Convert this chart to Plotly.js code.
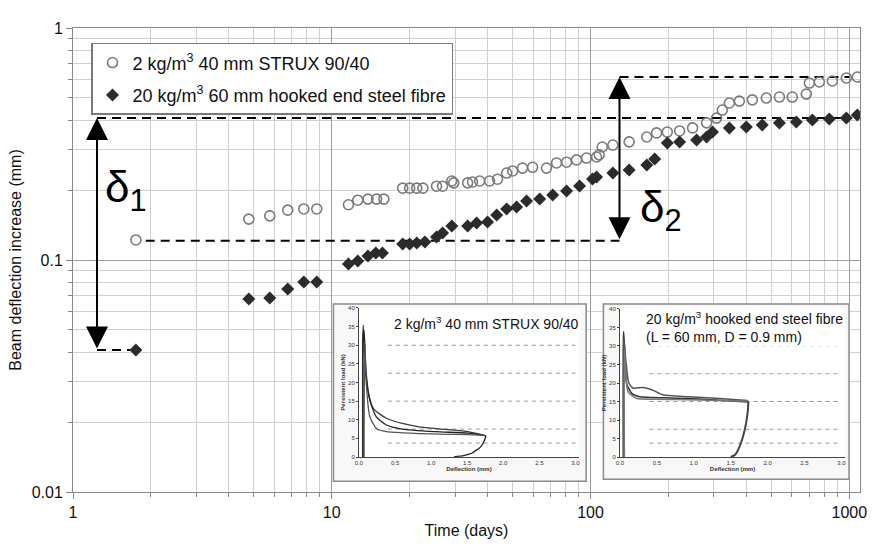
<!DOCTYPE html>
<html>
<head>
<meta charset="utf-8">
<script src="https://cdn.plot.ly/plotly-3.0.1.min.js"></script>
<style>html,body{margin:0;padding:0;background:#fff;}#chart{width:887px;height:544px;}</style>
</head>
<body>
<div id="chart"></div>
<script>
// ---- main series (time in days, deflection increase in mm) ----
const strux_days = [1.75,4.78,5.76,6.76,7.80,8.75,11.6,12.6,13.8,14.9,15.9,18.8,20.0,21.3,22.5,25.4,26.8,29.1,29.6,33.5,35.0,37.3,40.7,43.7,47.4,50.0,54.6,59.7,67.6,73.9,80.8,88.3,96.5,105.5,108,111,122,141,165,180,198,221,248,281,307,323,344,376,422,478,537,602,682,701,766,860,974,1074];
const strux_defl = [0.122,0.150,0.155,0.164,0.166,0.166,0.173,0.181,0.183,0.183,0.183,0.204,0.204,0.204,0.204,0.208,0.208,0.219,0.215,0.215,0.217,0.219,0.219,0.223,0.237,0.242,0.249,0.251,0.249,0.262,0.264,0.270,0.275,0.278,0.284,0.307,0.313,0.323,0.339,0.353,0.356,0.360,0.371,0.390,0.409,0.443,0.475,0.484,0.490,0.499,0.504,0.504,0.519,0.579,0.585,0.591,0.609,0.615];

const steel_days = [1.75,4.78,5.76,6.76,7.80,8.75,11.6,12.6,13.8,14.8,15.7,18.8,20.0,21.3,22.9,25.4,26.8,29.1,33.5,36.3,40.0,43.4,47.4,51.8,56.6,63.6,71.4,80.8,90.7,101.8,105.5,122,141,165,177,198,221,257,281,296,344,400,461,537,624,720,837,974,1074];
const steel_defl = [0.0409,0.0679,0.0686,0.0750,0.0804,0.0804,0.0961,0.099,0.104,0.1072,0.1072,0.1172,0.1172,0.1184,0.1196,0.1257,0.1307,0.1401,0.1401,0.1444,0.1458,0.1563,0.166,0.1692,0.1796,0.1832,0.1906,0.1984,0.2084,0.2234,0.2279,0.2371,0.2443,0.2567,0.2724,0.3193,0.3226,0.3291,0.339,0.356,0.3707,0.3744,0.382,0.3896,0.3935,0.4014,0.4053,0.4094,0.4217];

const seriesNames = ['2 kg/m<sup>3</sup> 40 mm STRUX 90/40', '20 kg/m<sup>3</sup> 60 mm hooked end steel fibre'];

// ---- delta construction lines ----
const delta1_day = 1.238;
const delta2_day = 129.4;
const level_top1 = 0.409;   // end of steel series
const level_bot1 = 0.0409;  // start of steel series
const level_bot2 = 0.121;   // start of STRUX series
const level_top2 = 0.615;   // end of STRUX series
const dash_top1_x = [delta1_day, 1010];
const dash_bot1_x = [delta1_day, 1.66];
const dash_bot2_x = [1.91, delta2_day];
const dash_top2_x = [delta2_day, 1000];

// ---- axis ticks ----
const xTickVals = [1,10,100,1000];
const xTickText = ['1','10','100','1000'];
const yTickVals = [0.01,0.1,1];
const yTickText = ['0.01','0.1','1'];
const xMinor = [2,3,4,5,6,7,8,9,20,30,40,50,60,70,80,90,200,300,400,500,600,700,800,900];
const yMinor = [0.02,0.03,0.04,0.05,0.06,0.07,0.08,0.09,0.2,0.3,0.4,0.5,0.6,0.7,0.8,0.9];

// ---- insets: persistent load (kN) vs deflection (mm) ----
const inset_levels = [30, 22.5, 15, 7.5, 3.75];
const inset_level_x = [0.4, 3.0];
const inset1_title = '2 kg/m<sup>3</sup> 40 mm STRUX 90/40';
const inset2_title = '20 kg/m<sup>3</sup> hooked end steel fibre<br>(L = 60 mm, D = 0.9 mm)';
const in1_a_x = [0.05,0.05,0.06,0.08,0.12,0.2,0.38,0.6,0.83,1.2,1.51,1.74];
const in1_a_y = [0,30,35.4,26,18,13,10.4,9.0,8.1,7.4,6.8,5.8];
const in1_b_x = [0.06,0.06,0.07,0.1,0.15,0.24,0.38,0.6,1.06,1.51,1.76];
const in1_b_y = [0,33,34,22.5,15.3,10.8,8.6,7.5,6.8,6.4,5.7];
const in1_c_x = [0.07,0.08,0.1,0.15,0.25,0.38,0.6,0.83,1.2,1.5,1.74];
const in1_c_y = [0,31,20,10.8,7.5,6.8,6.5,6.3,6.1,6.0,5.8];
const in1_u_x = [1.76,1.74,1.69,1.56,1.45,1.32];
const in1_u_y = [5.7,4.5,2.8,1.0,0.4,0.1];
const in2_a_x = [0.045,0.045,0.05,0.07,0.09,0.16,0.27,0.6,0.93,1.3,1.73];
const in2_a_y = [0,30,33.9,27,19.9,17.2,16.3,16.0,15.8,15.4,14.9];
const in2_b_x = [0.05,0.05,0.08,0.12,0.18,0.31,0.44,0.58,0.93,1.3,1.73];
const in2_b_y = [0,32,26,20,18.6,18.8,18.1,16.8,16.3,15.9,15.3];
const in2_c_x = [0.06,0.06,0.08,0.11,0.22,0.5,0.9,1.3,1.74];
const in2_c_y = [0,29,22,17.6,15.9,15.6,15.5,15.3,15.1];
const in2_u_x = [1.74,1.73,1.69,1.62,1.56,1.5];
const in2_u_y = [15.1,12,7.3,2.8,0.6,0];
const insetXTicks = [0,0.5,1,1.5,2,2.5,3];
const insetXText = ['0.0','0.5','1.0','1.5','2.0','2.5','3.0'];

const FONT = 'Arial, "Liberation Sans", sans-serif';
const traces = [];

// cover panels (behind insets)
traces.push({x:[null], y:[null], xaxis:'x2', yaxis:'y2', showlegend:false, hoverinfo:'skip', mode:'markers'});
traces.push({x:[null], y:[null], xaxis:'x3', yaxis:'y3', showlegend:false, hoverinfo:'skip', mode:'markers'});

// dashed construction lines
const dashStyle = {color:'#000', width:2, dash:'9px,6px'};
[[dash_top1_x, level_top1],[dash_bot1_x, level_bot1],[dash_bot2_x, level_bot2],[dash_top2_x, level_top2]].forEach(function(d){
  traces.push({x:d[0], y:[d[1], d[1]], mode:'lines', line:dashStyle, showlegend:false, hoverinfo:'skip'});
});

traces.push({x:strux_days, y:strux_defl, name:seriesNames[0], mode:'markers', legendgroup:'a',
  marker:{symbol:'circle-open', size:10, color:'#7a7a7a', line:{width:1.6}}});
traces.push({x:steel_days, y:steel_defl, name:seriesNames[1], mode:'markers', legendgroup:'b',
  marker:{symbol:'diamond', size:10, color:'#2b2b2b'}});

// insets
function insetLevels(xa, ya){
  inset_levels.forEach(function(L){
    traces.push({x:inset_level_x, y:[L,L], xaxis:xa, yaxis:ya, mode:'lines', showlegend:false, hoverinfo:'skip',
      line:{color:'#9a9a9a', width:1, dash:'4px,4px'}});
  });
}
insetLevels('x4','y4');
insetLevels('x5','y5');
function curve(xs, ys, xa, ya, col, w){
  traces.push({x:xs, y:ys, xaxis:xa, yaxis:ya, mode:'lines', showlegend:false, hoverinfo:'skip',
    line:{color:col, width:w, shape:'spline', smoothing:0.6}});
}
curve(in1_a_x, in1_a_y, 'x4','y4','#3a3a3a',1.3);
curve(in1_b_x, in1_b_y, 'x4','y4','#222',1.3);
curve(in1_c_x, in1_c_y, 'x4','y4','#555',1.3);
curve(in1_u_x, in1_u_y, 'x4','y4','#222',1.3);
curve(in2_a_x, in2_a_y, 'x5','y5','#333',1.5);
curve(in2_b_x, in2_b_y, 'x5','y5','#555',1.5);
curve(in2_c_x, in2_c_y, 'x5','y5','#777',1.5);
curve(in2_u_x, in2_u_y, 'x5','y5','#444',2);

const insetAxisX = function(dom, anchor){ return {domain:dom, anchor:anchor, range:[0,3.05], tickvals:insetXTicks, ticktext:insetXText,
  showgrid:false, zeroline:false, showline:true, linecolor:'#444', linewidth:1, ticks:'', tickfont:{size:6, color:'#333', family:FONT},
  title:{text:'<b>Deflection (mm)</b>', font:{size:6, color:'#333', family:FONT}, standoff:1}, fixedrange:true}; };
const insetAxisY = function(dom, anchor){ return {domain:dom, anchor:anchor, range:[0,40], dtick:5,
  showgrid:false, zeroline:false, showline:true, linecolor:'#444', linewidth:1, ticks:'outside', ticklen:2, tickcolor:'#444', tickfont:{size:6, color:'#333', family:FONT},
  title:{text:'<b>Persistent load (kN)</b>', font:{size:6, color:'#333', family:FONT}, standoff:1}, fixedrange:true}; };
const hidden = function(dom, anchor){ return {domain:dom, anchor:anchor, range:[0,1], visible:false, fixedrange:true}; };

const layout = {
  width:887, height:544,
  margin:{l:73, r:27, t:28, b:52},
  paper_bgcolor:'#fff', plot_bgcolor:'#fff',
  font:{family:FONT, color:'#111'},
  showlegend:true,
  legend:{x:0.0229, y:0.968, xanchor:'left', yanchor:'top', bgcolor:'#fff', bordercolor:'#7a7a7a', borderwidth:1.5,
    font:{size:18, family:FONT, color:'#111'}, tracegroupgap:6, traceorder:'grouped', itemwidth:30},
  xaxis:{type:'log', range:[0, Math.log10(1100)], tickvals:xTickVals, ticktext:xTickText,
    showgrid:true, gridcolor:'#9c9c9c', gridwidth:1, zeroline:false,
    minor:{tickmode:'array', tickvals:xMinor, showgrid:true, gridcolor:'#d0d0d0', gridwidth:1, ticks:'outside', ticklen:4, tickcolor:'#888'},
    ticks:'outside', ticklen:6, tickcolor:'#888', showline:true, linecolor:'#888', mirror:true,
    tickfont:{size:16, color:'#111'}, title:{text:'Time (days)', font:{size:16, color:'#111'}, standoff:4}},
  yaxis:{type:'log', range:[-2,0], tickvals:yTickVals, ticktext:yTickText,
    showgrid:true, gridcolor:'#9c9c9c', gridwidth:1, zeroline:false,
    minor:{tickmode:'array', tickvals:yMinor, showgrid:true, gridcolor:'#d0d0d0', gridwidth:1, ticks:'outside', ticklen:4, tickcolor:'#888'},
    ticks:'outside', ticklen:6, tickcolor:'#888', showline:true, linecolor:'#888', mirror:true,
    tickfont:{size:16, color:'#111'}, title:{text:'Beam deflection increase (mm)', font:{size:16, color:'#111'}, standoff:6}},
  xaxis2:hidden([0.330,0.653],'y2'), yaxis2:hidden([0.0216,0.407],'x2'),
  xaxis3:hidden([0.673,0.987],'y3'), yaxis3:hidden([0.026,0.407],'x3'),
  xaxis4:insetAxisX([0.3634,0.643],'y4'), yaxis4:insetAxisY([0.0754,0.3966],'x4'),
  xaxis5:insetAxisX([0.695,0.981],'y5'), yaxis5:insetAxisY([0.0754,0.3944],'x5'),
  shapes:[
    {type:'rect', xref:'x2', yref:'y2', x0:0, x1:1, y0:0, y1:1, layer:'below', fillcolor:'#f8f8f8', line:{color:'#8a8a8a', width:3}},
    {type:'rect', xref:'x3', yref:'y3', x0:0, x1:1, y0:0, y1:1, layer:'below', fillcolor:'#f8f8f8', line:{color:'#8a8a8a', width:3}}
  ],
  annotations:[
    {xref:'x', yref:'y', x:Math.log10(delta1_day), y:Math.log10(level_top1), axref:'x', ayref:'y',
      ax:Math.log10(delta1_day), ay:Math.log10(level_bot1), text:'', showarrow:true, arrowside:'end+start',
      arrowhead:2, startarrowhead:2, arrowsize:2.2, startarrowsize:2.2, arrowwidth:2, arrowcolor:'#000'},
    {xref:'x', yref:'y', x:Math.log10(delta2_day), y:Math.log10(level_top2), axref:'x', ayref:'y',
      ax:Math.log10(delta2_day), ay:Math.log10(level_bot2), text:'', showarrow:true, arrowside:'end+start',
      arrowhead:2, startarrowhead:2, arrowsize:2.2, startarrowsize:2.2, arrowwidth:2, arrowcolor:'#000'},
    {xref:'paper', yref:'paper', x:0.038, y:0.651, xanchor:'left', yanchor:'middle', showarrow:false,
      text:'δ<sub>1</sub>', font:{size:44, family:FONT, color:'#000'}},
    {xref:'paper', yref:'paper', x:0.718, y:0.608, xanchor:'left', yanchor:'middle', showarrow:false,
      text:'δ<sub>2</sub>', font:{size:44, family:FONT, color:'#000'}},
    {xref:'paper', yref:'paper', x:0.405, y:0.364, xanchor:'left', yanchor:'middle', showarrow:false,
      text:inset1_title, bgcolor:'#fff', font:{size:14, family:FONT, color:'#111'}},
    {xref:'paper', yref:'paper', x:0.726, y:0.356, xanchor:'left', yanchor:'middle', align:'left', showarrow:false,
      text:inset2_title, bgcolor:'#fff', font:{size:14, family:FONT, color:'#111'}}
  ]
};

Plotly.newPlot('chart', traces, layout, {staticPlot:true, displayModeBar:false});
</script>
</body>
</html>
